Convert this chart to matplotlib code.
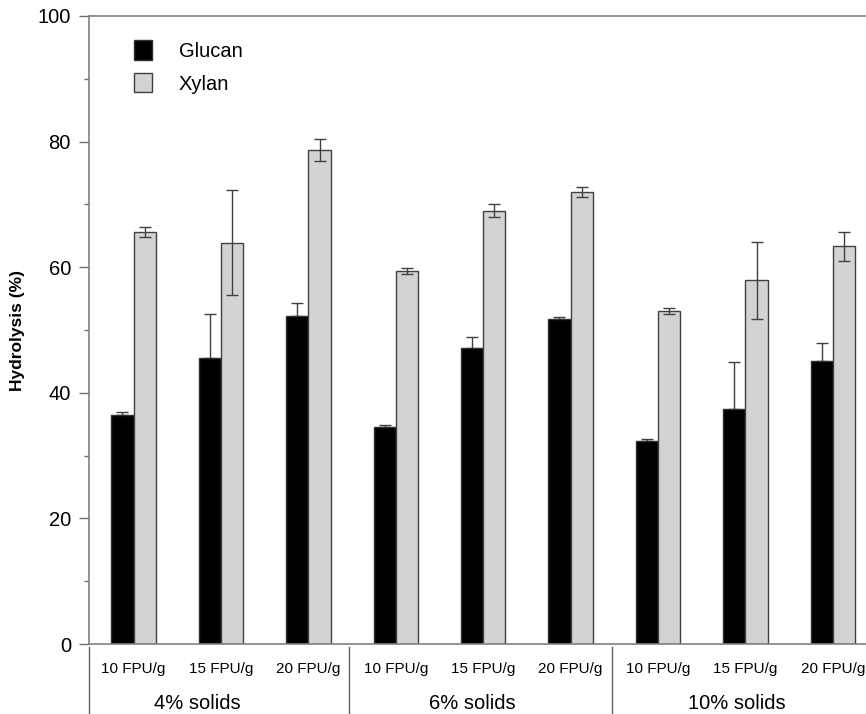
import numpy as np
import matplotlib
matplotlib.use('Agg')
import matplotlib.pyplot as plt
from matplotlib.lines import Line2D

plt.rcParams['font.family'] = ['Liberation Sans', 'DejaVu Sans']

doses = ['10 FPU/g', '15 FPU/g', '20 FPU/g'] * 3
solids = ['4% solids', '6% solids', '10% solids']
glucan = [36.5, 45.5, 52.3, 34.5, 47.2, 51.7, 32.4, 37.4, 45.1]
glucan_err = [0.4, 7.1, 2.0, 0.3, 1.7, 0.3, 0.3, 7.5, 2.8]
xylan = [65.6, 63.9, 78.6, 59.4, 69.0, 72.0, 53.0, 57.9, 63.3]
xylan_err = [0.75, 8.35, 1.75, 0.55, 1.05, 0.75, 0.5, 6.15, 2.3]

fig = plt.figure(figsize=(8.66, 7.14), dpi=100)
ax = fig.add_axes([0.1028, 0.098, 0.8972, 0.8796])

x = np.arange(len(glucan))
w = 0.255
ek = dict(ecolor='#404040', elinewidth=1, capsize=4, capthick=1)
ax.bar(x - w/2, glucan, w, color='black', edgecolor='#303030', linewidth=1,
       label='Glucan', zorder=2)
ax.errorbar(x - w/2, glucan, yerr=[np.zeros(9), glucan_err], fmt='none', zorder=1, **ek)
ax.bar(x + w/2, xylan, w, color='#d3d3d3', edgecolor='#404040', linewidth=1,
       label='Xylan', zorder=2)
ax.errorbar(x + w/2, xylan, yerr=xylan_err, fmt='none', zorder=3, **ek)

ax.set_xlim(-0.51, 8.38)
ax.set_ylim(0, 100)
ax.set_yticks([0, 20, 40, 60, 80, 100])
ax.set_yticks([10, 30, 50, 70, 90], minor=True)
ax.tick_params(axis='y', which='major', length=7, width=1, color='#707070',
               labelsize=14.5, pad=6)
ax.tick_params(axis='y', which='minor', length=3.6, width=1, color='#707070')
ax.set_xticks([])
for s in ['left', 'top', 'bottom']:
    ax.spines[s].set_color('#808080')
    ax.spines[s].set_linewidth(1.2)
ax.spines['right'].set_visible(False)
ax.set_ylabel('Hydrolysis (%)', fontsize=12.5, fontweight='bold')
ax.yaxis.set_label_coords(-0.083, 0.5)

trans = ax.get_xaxis_transform()
for i, d in enumerate(doses):
    ax.text(i, -0.04, d, transform=trans, ha='center', va='center', fontsize=11)
for xs, s in zip([0.73, 3.87, 6.9], solids):
    ax.text(xs, -0.095, s, transform=trans, ha='center', va='center', fontsize=14.5)
for xs in [-0.51, 2.47, 5.47]:
    ax.add_line(Line2D([xs, xs], [-0.005, -0.12], transform=trans, color='#606060',
                       linewidth=1, clip_on=False))

ax.legend(loc='upper left', bbox_to_anchor=(0.035, 0.99), frameon=False, fontsize=14.5,
          handlelength=0.9, handleheight=1.1, handletextpad=1.3, labelspacing=0.6)

fig.savefig('out.png', dpi=100)
